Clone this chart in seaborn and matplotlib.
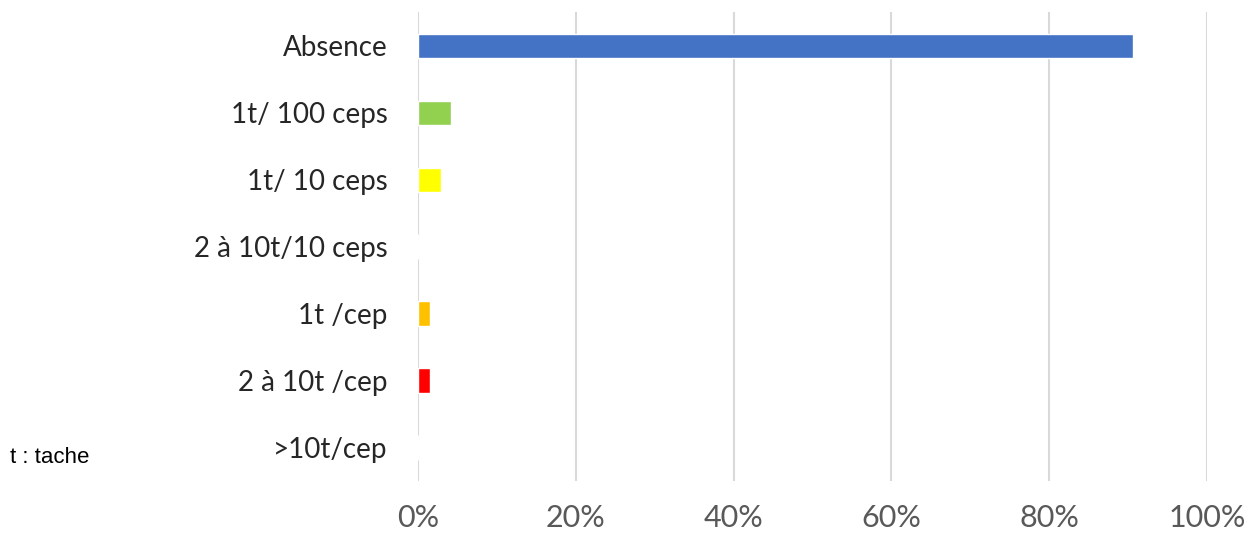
import pandas as pd
import matplotlib.pyplot as plt
import seaborn as sns

# --- data ---
categories = ['Absence', '1t/ 100 ceps', '1t/ 10 ceps', '2 à 10t/10 ceps',
              '1t /cep', '2 à 10t /cep', '>10t/cep']
values = [0.906, 0.042, 0.029, 0.0, 0.015, 0.015, 0.0]
colors = ['#4472C4', '#92D050', '#FFFF00', '#A5A5A5', '#FFC000', '#FF0000', '#C00000']
x_ticks = [0, 0.2, 0.4, 0.6, 0.8, 1.0]
x_labels = ['0%', '20%', '40%', '60%', '80%', '100%']

df = pd.DataFrame({'cat': categories, 'val': values})

sns.set_style('white')
plt.rcParams['font.family'] = ['Lato', 'DejaVu Sans']

fig = plt.figure(figsize=(12.52, 5.42), dpi=100)
ax = fig.add_axes([0.334, 0.112, 0.630, 0.865])

sns.barplot(data=df, y='cat', x='val', hue='cat', palette=colors,
            order=categories, hue_order=categories, width=0.37,
            legend=False, ax=ax, saturation=1)

ax.set_xlim(0, 1.0)
ax.set_ylim(len(categories) - 0.5, -0.5)
ax.set_xticks(x_ticks)
ax.set_xticklabels(x_labels, fontsize=22, color='#595959')
ax.tick_params(axis='y', labelsize=20, length=0, pad=22)
ax.tick_params(axis='x', length=0, pad=16)
ax.set_xlabel('')
ax.set_ylabel('')
for s in ax.spines.values():
    s.set_visible(False)
ax.xaxis.grid(True, color='#d9d9d9', linewidth=1.5)
ax.set_axisbelow(True)

fig.text(0.008, 0.145, 't : tache', fontsize=16, family='Liberation Sans', color='black')

fig.savefig('out.png', dpi=100)
